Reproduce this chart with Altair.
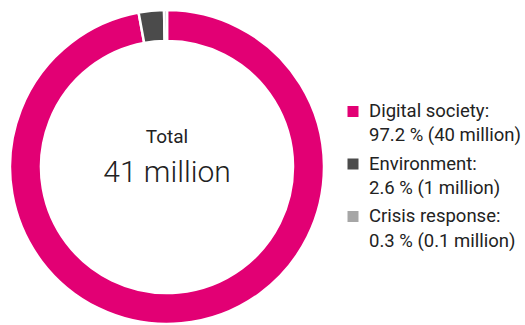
import altair as alt
import pandas as pd

# Data
categories = ["Digital society", "Environment", "Crisis response"]
shares = [97.2, 2.6, 0.3]
share_labels = ["97.2 %", "2.6 %", "0.3 %"]
amount_labels = ["40 million", "1 million", "0.1 million"]
colors = ["#E20074", "#4B4B4B", "#A6A6A6"]
center_labels = ["Total", "41 million"]

df = pd.DataFrame({
    "category": categories,
    "share": shares,
    "order": list(range(len(categories))),
    "line1": [c + ":" for c in categories],
    "line2": [f"{s} ({a})" for s, a in zip(share_labels, amount_labels)],
})

color_scale = alt.Scale(domain=categories, range=colors)
FONT = "Roboto"
TEXT_COLOR = "#222222"

donut = alt.Chart(df).mark_arc(
    radius=157, radius2=126, stroke="white", strokeWidth=2.5
).encode(
    theta=alt.Theta("share:Q", stack=True),
    order=alt.Order("order:Q"),
    color=alt.Color("category:N", scale=color_scale, legend=None),
)

center_df = pd.DataFrame({"label": center_labels})
total_text = alt.Chart(center_df).transform_filter(
    alt.datum.label == center_labels[0]
).mark_text(
    font=FONT, fontSize=19, dy=-24, baseline="alphabetic", align="center", color=TEXT_COLOR
).encode(text="label:N")
amount_text = alt.Chart(center_df).transform_filter(
    alt.datum.label == center_labels[1]
).mark_text(
    font=FONT, fontSize=30, fontWeight=300, dy=14.5, baseline="alphabetic", align="center", color=TEXT_COLOR
).encode(text="label:N")

left = alt.layer(donut, total_text, amount_text).properties(width=334, height=320)

yenc = alt.Y(
    "order:Q",
    scale=alt.Scale(domain=[-1.99, 3.99], reverse=True, nice=False, zero=False),
    axis=None,
)
squares = alt.Chart(df).mark_square(size=121, opacity=1).encode(
    x=alt.value(19),
    y=yenc,
    color=alt.Color("category:N", scale=color_scale, legend=None),
)
line1 = alt.Chart(df).mark_text(
    font=FONT, fontSize=18.5, align="left", baseline="alphabetic", dy=5.5, color=TEXT_COLOR
).encode(x=alt.value(35), y=yenc, text="line1:N")
line2 = alt.Chart(df).mark_text(
    font=FONT, fontSize=18.5, align="left", baseline="alphabetic", dy=30, color=TEXT_COLOR
).encode(x=alt.value(35), y=yenc, text="line2:N")

right = alt.layer(squares, line1, line2).properties(width=186, height=314)

chart = alt.hconcat(left, right, spacing=0).properties(
    padding={"left": 0, "top": 5, "right": 0, "bottom": 0}
).configure_view(stroke=None)

chart.save("out.html", embed_options={"renderer": "svg", "actions": False})
